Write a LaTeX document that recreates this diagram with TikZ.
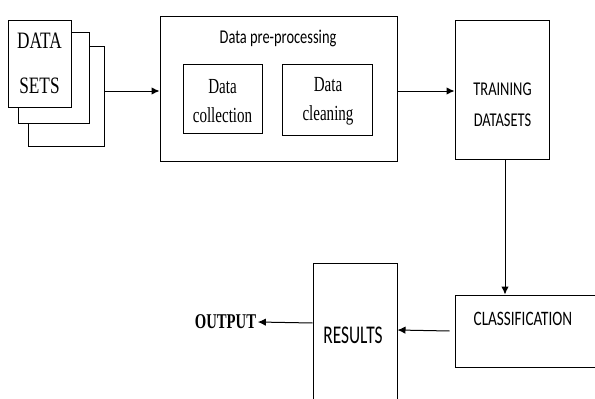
\documentclass[tikz,border=0pt]{standalone}
\usepackage{fontspec}
\usetikzlibrary{arrows.meta}
\newfontfamily\tmsfont[FakeStretch=0.7]{Liberation Serif}
\newfontfamily\clbfont[FakeStretch=0.74]{Carlito}

\begin{document}
\begin{tikzpicture}[x=1pt,y=-1pt,
  box/.style={draw=black,line width=1pt,fill=white,inner sep=0pt},
  txt/.style={inner sep=0pt,align=center},
  arr/.style={-{Latex[length=8pt,width=7.5pt]},line width=1pt}]
  \clip (0,0) rectangle (595,399);
  \fill[white] (0,0) rectangle (595,399);

  % stacked data-set sheets
  \node[box,minimum width=76,minimum height=100] (ds3) at (66,96) {};
  \node[box,minimum width=71,minimum height=91] (ds2) at (53.5,77.5) {};
  \node[box,minimum width=63,minimum height=87] (ds1) at (39.5,63.5) {};
  \node[txt,font=\tmsfont\fontsize{23.5}{45}\selectfont] (ds1t) at (39.5,63.5) {\scalebox{1.05}[1]{DATA}\\\scalebox{1.05}[1]{SETS}};

  % pre-processing stage
  \node[box,minimum width=237,minimum height=145] (pre) at (278.5,88.5) {};
  \node[txt,font=\clbfont\fontsize{19.5}{24}\selectfont] (pret) at (278,38) {Data pre-processing};
  \node[box,minimum width=79,minimum height=69] (col) at (222.5,98.5) {};
  \node[txt,font=\tmsfont\fontsize{21.5}{29}\selectfont] (colt) at (222.5,101) {Data\\collection};
  \node[box,minimum width=90,minimum height=71] (cln) at (327,99.5) {};
  \node[txt,font=\tmsfont\fontsize{21.5}{29}\selectfont] (clnt) at (328,101) {Data\\cleaning};

  % training data
  \node[box,minimum width=94,minimum height=139] (trn) at (502,89.5) {};
  \node[txt,font=\clbfont\fontsize{19.5}{31}\selectfont] (trnt) at (502.5,105) {TRAINING\\DATASETS};

  % classification
  \node[box,minimum width=150,minimum height=72] (cls) at (530,331) {};
  \node[txt,font=\clbfont\fontsize{20.5}{24}\selectfont] (clst) at (523,319) {CLASSIFICATION};

  % results
  \node[box,minimum width=84,minimum height=147] (res) at (355,336.5) {};
  \node[txt,font=\clbfont\fontsize{25.5}{30}\selectfont] (rest) at (353,335) {\scalebox{0.92}[1]{RESULTS}};

  % output label
  \node[inner sep=1.5pt,font=\tmsfont\bfseries\fontsize{21}{24}\selectfont] (out) at (225.5,322) {OUTPUT};

  % connectors
  \draw[arr] ([yshift=5pt]ds3.east) -- ([yshift=5pt]ds3.east -| pre.west);
  \draw[arr] ([yshift=-2.5pt]pre.east) -- ([yshift=-2.5pt]pre.east -| trn.west);
  \draw[arr] ([xshift=3pt]trn.south) -- ([xshift=3pt]trn.south |- cls.north);
  \draw[arr] ([xshift=-5pt]cls.west) -- ([yshift=6.5pt]res.east);
  \draw[arr] ([yshift=13.5pt]res.west) -- (out.east);
\end{tikzpicture}
\end{document}
